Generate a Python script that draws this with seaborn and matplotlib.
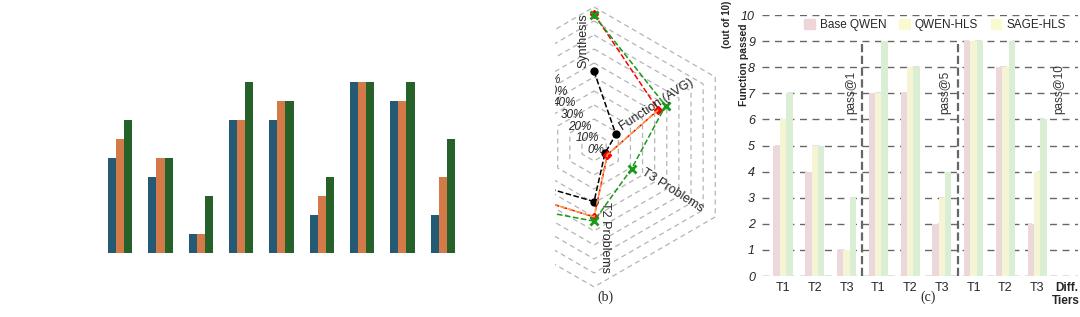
import numpy as np
import pandas as pd
import seaborn as sns
import matplotlib.pyplot as plt
from matplotlib.patches import Patch

sns.set_style("white")
plt.rcParams['font.family'] = ['Liberation Sans', 'DejaVu Sans']

# Donnees
tiers = ["T1", "T2", "T3"] * 3
pass_k = ["pass@1", "pass@5", "pass@10"]
models = ["Base QWEN", "QWEN-HLS", "SAGE-HLS"]
base_qwen = [5, 4, 1, 7, 7, 2, 9, 8, 2]
qwen_hls = [6, 5, 1, 7, 8, 3, 9, 8, 4]
sage_hls = [7, 5, 3, 9, 8, 4, 9, 9, 6]

radar_axes = ["Synthesis", "Function (AVG)", "T3 Problems", "T2 Problems", "T1 Problems", "Syntax"]
radar_angles = [90, 30, -30, -90, -150, -210]
radar_black = [54, 18, 9, 39, 52, 60]
radar_red = [95, 53, 11, 50, 65, 70]
radar_orange = [np.nan, 53, 11, 50, 65, 70]
radar_green = [94, 59, 31, 53, 80, 85]
ring_levels = list(range(10, 101, 10))

df = pd.DataFrame({
    "slot": np.tile(np.arange(9), 3),
    "model": np.repeat(models, 9),
    "passed": base_qwen + qwen_hls + sage_hls,
})

fig = plt.figure(figsize=(10.8, 3.17), dpi=100)

# ---- (a) barres sans axes
ax_a = fig.add_axes([0.0926, 0.2028, 0.336, 0.599])
sns.barplot(data=df, x="slot", y="passed", hue="model", ax=ax_a, width=0.6,
            palette=["#175f81", "#ea7331", "#1c6b22"], linewidth=0, legend=False)
ax_a.set_xlim(-0.5, 8.5)
ax_a.set_ylim(0, 10)
ax_a.axis("off")

# ---- (b) radar hexagonal (coupe a gauche)
ax_b = fig.add_axes([0.5139, 0.0789, 0.1546, 0.9211])
ang = np.deg2rad(radar_angles)
ang_closed = np.append(ang, ang[0])
for r in ring_levels:
    ax_b.plot(r * np.cos(ang_closed), r * np.sin(ang_closed), color="#b4b4b4",
              lw=0.9, dashes=(4, 3), zorder=1)

def radar_line(vals, **kw):
    v = np.array(vals, dtype=float)
    ax_b.plot(v * np.cos(ang), v * np.sin(ang), **kw)

radar_line(radar_black, color="black", ls="--", lw=1.1, marker="o", ms=5, zorder=3)
radar_line(radar_red, color="red", ls="--", lw=1.1, marker="D", ms=4, zorder=3)
radar_line(radar_orange, color="#f5a04a", ls="--", lw=1.1, zorder=3)
radar_line(radar_green, color="#1a9a1a", ls="--", lw=1.1, marker="x", ms=6, mew=2, zorder=4)

# etiquettes des axes (position le long de l'axe, decalage lateral, rotation)
lab_r = [76, 54, 64, 65, 70, 70]
lab_off = [7.9, 4.0, 1.0, 7.9, 8, 8]
lab_rot = [90, 33, -32.5, -90, 30, -30]
for name, a, r, off, rot in zip(radar_axes, ang, lab_r, lab_off, lab_rot):
    x = r * np.cos(a) - off * np.sin(a)
    y = r * np.sin(a) + off * np.cos(a)
    ax_b.text(x, y, name, rotation=rot, rotation_mode="anchor", ha="center",
              va="center", fontsize=9, clip_on=True, zorder=5)
pa = np.deg2rad(124)
for r in [0] + ring_levels:
    ax_b.text(r * np.cos(pa) + 1.2, r * np.sin(pa) - 2.0, f"{r}%", fontsize=8.5,
              style="italic", ha="center", va="center", clip_on=True, zorder=5)
ax_b.set_xlim(-27.9, 91.4)
ax_b.set_ylim(-103.6, 105)
ax_b.axis("off")
fig.text(605 / 1080, 1 - 297 / 317, "(b)", family="Liberation Serif", fontsize=10,
         ha="center", va="center")

# ---- (c) barres avec grille
ax_c = fig.add_axes([0.7056, 0.1293, 0.2926, 0.8233])
sns.barplot(data=df, x="slot", y="passed", hue="model", ax=ax_c, width=0.6,
            palette=["#efd5d7", "#fafad0", "#d8f2cf"], linewidth=0, legend=False)
ax_c.set_axisbelow(True)
ax_c.set_ylim(0, 10)
ax_c.set_xlim(-0.66, 9.29)
ax_c.set_yticks(range(0, 11))
ax_c.set_yticklabels([str(i) for i in range(0, 11)], style="italic", fontsize=9)
ax_c.set_xticks(list(range(9)) + [8.92])
ax_c.set_xticklabels(tiers + ["Diff.\nTiers"], fontsize=9)
ax_c.get_xticklabels()[-1].set_fontweight("bold")
ax_c.get_xticklabels()[-1].set_fontsize(8.5)
ax_c.tick_params(axis="y", length=3, color="#555555", pad=2)
ax_c.tick_params(axis="x", length=0, pad=4)
ax_c.grid(axis="y", color="#666666", ls="--", lw=1, dashes=(5, 4))
for s in ax_c.spines.values():
    s.set_visible(False)
ax_c.set_xlabel("")
ax_c.set_ylabel("")
ax_c.vlines([2.5, 5.5], 0, 9, colors="#666666", linestyles="--", lw=1.6)
for xp, lab in zip([2.15, 5.1, 8.7], pass_k):
    ax_c.text(xp, 6.2, lab, rotation=90, ha="center", va="bottom", fontsize=8.5,
              color="#333333")
handles = [Patch(color=c) for c in ["#efd5d7", "#fafad0", "#fafad0"]]
ax_c.legend(handles, models, ncol=3, frameon=False, loc="center left",
            bbox_to_anchor=(0.115, 0.962), fontsize=8.5, handlelength=0.9,
            handleheight=0.9, handletextpad=0.4, columnspacing=1.1, borderpad=0)
fig.text(744 / 1080, 1 - 65 / 317, "Function passed", rotation=90, fontsize=7.5,
         fontweight="bold", ha="center", va="center")
fig.text(727 / 1080, 1 - 24 / 317, "(out of 10)", rotation=90, fontsize=7,
         fontweight="bold", ha="center", va="center")
fig.text(928 / 1080, 1 - 297 / 317, "(c)", family="Liberation Serif", fontsize=10,
         ha="center", va="center")

fig.savefig("out.png", dpi=100)
